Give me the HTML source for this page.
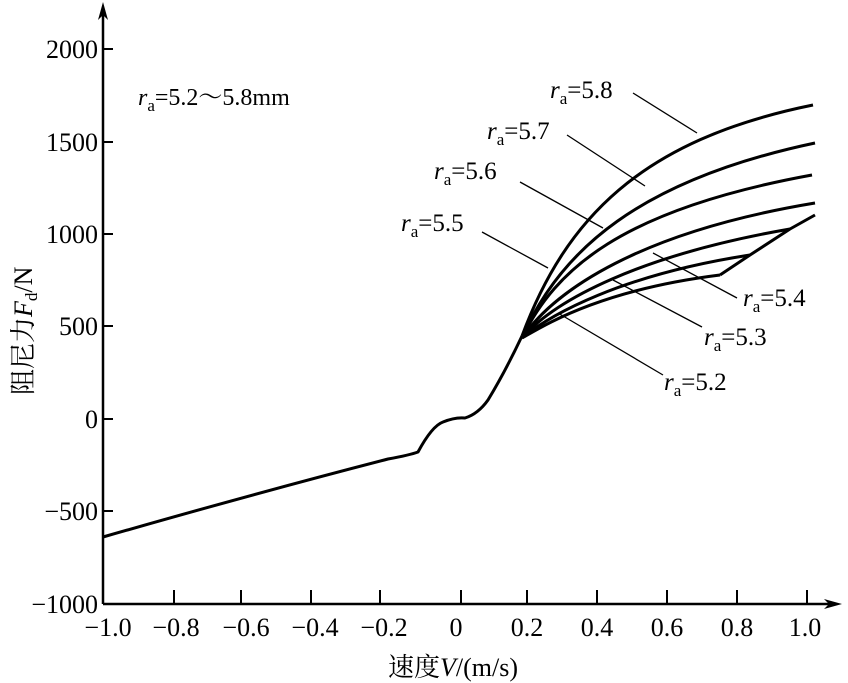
<!DOCTYPE html>
<html><head><meta charset="utf-8"><style>
html,body{margin:0;padding:0;background:#fff;}
svg{display:block;}
text{font-family:"Liberation Serif","Noto Serif CJK SC",serif;fill:#000;}
</style></head><body>
<svg width="848" height="683" viewBox="0 0 848 683" xmlns="http://www.w3.org/2000/svg">
<g stroke="#000" stroke-width="2.5" fill="none">
<line x1="103" y1="604" x2="103" y2="8"/>
<line x1="103" y1="604" x2="836" y2="604"/>
</g>
<path d="M103,2 L98,20 L103,15 L108,20 Z" fill="#000"/>
<path d="M842,604 L824,599 L829,604 L824,609 Z" fill="#000"/>
<g stroke="#000" stroke-width="2">
<line x1="103" y1="49" x2="113" y2="49"/>
<line x1="103" y1="142" x2="113" y2="142"/>
<line x1="103" y1="234" x2="113" y2="234"/>
<line x1="103" y1="326" x2="113" y2="326"/>
<line x1="103" y1="419" x2="113" y2="419"/>
<line x1="103" y1="511" x2="113" y2="511"/>
<line x1="174" y1="604" x2="174" y2="590"/>
<line x1="241" y1="604" x2="241" y2="590"/>
<line x1="311" y1="604" x2="311" y2="590"/>
<line x1="380" y1="604" x2="380" y2="590"/>
<line x1="461" y1="604" x2="461" y2="590"/>
<line x1="527" y1="604" x2="527" y2="590"/>
<line x1="597" y1="604" x2="597" y2="590"/>
<line x1="667" y1="604" x2="667" y2="590"/>
<line x1="737" y1="604" x2="737" y2="590"/>
<line x1="807" y1="604" x2="807" y2="590"/>
</g>
<g font-size="26" text-anchor="end">
<text x="98" y="58">2000</text>
<text x="98" y="151">1500</text>
<text x="98" y="243">1000</text>
<text x="98" y="335">500</text>
<text x="98" y="428">0</text>
<text x="98" y="520">−500</text>
<text x="98" y="613">−1000</text>
</g>
<g font-size="26" text-anchor="middle">
<text x="108" y="636">−1.0</text>
<text x="176" y="636">−0.8</text>
<text x="246" y="636">−0.6</text>
<text x="315" y="636">−0.4</text>
<text x="384" y="636">−0.2</text>
<text x="456" y="636">0</text>
<text x="527" y="636">0.2</text>
<text x="597" y="636">0.4</text>
<text x="667" y="636">0.6</text>
<text x="737" y="636">0.8</text>
<text x="805" y="636">1.0</text>
</g>
<text x="388" y="676" font-size="26">速度<tspan font-style="italic">V</tspan>/(m/s)</text>
<text transform="translate(32,395) rotate(-90)" font-size="26">阻尼力<tspan font-style="italic">F</tspan><tspan font-size="17" dy="5">d</tspan><tspan dy="-5">/N</tspan></text>
<text x="138" y="105" font-size="24"><tspan font-style="italic">r</tspan><tspan font-size="17" dy="6">a</tspan><tspan dy="-6">=5.2～5.8mm</tspan></text>
<g stroke="#000" stroke-width="3" fill="none" stroke-linejoin="round">
<path d="M103,537 Q260,492 388,459 Q410,455 418,452 Q432,426 443,422 Q455,417 465,418 Q478,414 488,400 Q505,372 522,336"/>
<path d="M522,336 C565,220 640,140 813,105"/>
<path d="M522,338 C560,250 640,180 815,143"/>
<path d="M522,338 C555,270 620,210 812,175"/>
<path d="M522,338 C555,290 640,232 815,203"/>
<path d="M522,338 C555,300 640,255 790,229"/>
<path d="M522,338 C550,315 620,275 750,255"/>
<path d="M522,338 C545,325 600,290 720,275"/>
<path d="M720,275 L750,255 L790,229 L815,215"/>
</g>
<g stroke="#000" stroke-width="1.3">
<line x1="633" y1="93" x2="697" y2="133"/>
<line x1="567" y1="135" x2="645" y2="186"/>
<line x1="520" y1="182" x2="603" y2="228"/>
<line x1="482" y1="232" x2="548" y2="268"/>
<line x1="653" y1="253" x2="737" y2="298"/>
<line x1="613" y1="280" x2="702" y2="327"/>
<line x1="558" y1="313" x2="663" y2="375"/>
</g>
<g font-size="25">
<text x="550" y="98"><tspan font-style="italic">r</tspan><tspan font-size="17" dy="6">a</tspan><tspan dy="-6">=5.8</tspan></text>
<text x="487" y="139"><tspan font-style="italic">r</tspan><tspan font-size="17" dy="6">a</tspan><tspan dy="-6">=5.7</tspan></text>
<text x="434" y="179"><tspan font-style="italic">r</tspan><tspan font-size="17" dy="6">a</tspan><tspan dy="-6">=5.6</tspan></text>
<text x="401" y="231"><tspan font-style="italic">r</tspan><tspan font-size="17" dy="6">a</tspan><tspan dy="-6">=5.5</tspan></text>
<text x="743" y="306"><tspan font-style="italic">r</tspan><tspan font-size="17" dy="6">a</tspan><tspan dy="-6">=5.4</tspan></text>
<text x="704" y="345"><tspan font-style="italic">r</tspan><tspan font-size="17" dy="6">a</tspan><tspan dy="-6">=5.3</tspan></text>
<text x="664" y="390"><tspan font-style="italic">r</tspan><tspan font-size="17" dy="6">a</tspan><tspan dy="-6">=5.2</tspan></text>
</g>
</svg>
</body></html>
